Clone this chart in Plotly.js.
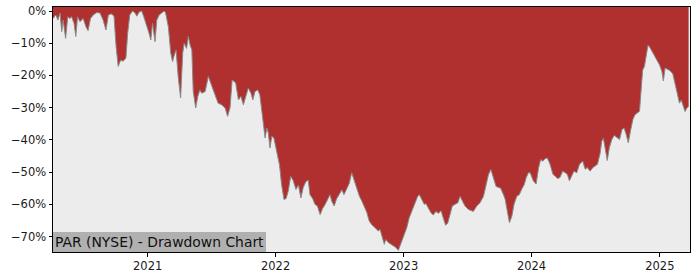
<!DOCTYPE html>
<html>
<head>
<meta charset="utf-8">
<script src="https://cdn.plot.ly/plotly-3.0.1.min.js"></script>
<style>
  html, body { margin: 0; padding: 0; background: #ffffff; }
  #chart { width: 700px; height: 280px; }
</style>
</head>
<body>
<div id="chart"></div>
<script>
// Drawdown series (percent)
const dates = [
'2020-04-06','2020-04-14','2020-04-20','2020-04-26','2020-05-01','2020-05-05','2020-05-12','2020-05-18','2020-05-24','2020-05-29',
'2020-06-05','2020-06-10','2020-06-15','2020-06-22','2020-07-01','2020-07-09','2020-07-15','2020-07-22','2020-07-30','2020-08-08',
'2020-08-18','2020-08-27','2020-09-04','2020-09-11','2020-09-20','2020-09-27','2020-10-03','2020-10-09','2020-10-16','2020-10-23',
'2020-10-31','2020-11-05','2020-11-11','2020-11-19','2020-11-26','2020-12-01','2020-12-08','2020-12-15','2020-12-21','2020-12-29',
'2021-01-05','2021-01-10','2021-01-15','2021-01-22','2021-01-27','2021-02-03','2021-02-10','2021-02-17','2021-02-21','2021-03-01',
'2021-03-08','2021-03-13','2021-03-17','2021-03-23','2021-03-29','2021-04-03','2021-04-05','2021-04-11','2021-04-15','2021-04-22',
'2021-04-27','2021-05-02','2021-05-07','2021-05-11','2021-05-18','2021-05-24','2021-05-30','2021-06-04','2021-06-14','2021-06-23',
'2021-07-03','2021-07-12','2021-07-21','2021-07-31','2021-08-10','2021-08-17','2021-08-24','2021-08-30','2021-09-09','2021-09-17',
'2021-09-24','2021-10-01','2021-10-08','2021-10-15','2021-10-23','2021-10-28','2021-11-03','2021-11-11','2021-11-17','2021-11-22',
'2021-11-27','2021-12-02','2021-12-07','2021-12-11','2021-12-16','2021-12-21','2021-12-27','2022-01-04','2022-01-12','2022-01-18',
'2022-01-25','2022-01-31','2022-02-06','2022-02-13','2022-02-20','2022-02-28','2022-03-07','2022-03-14','2022-03-21','2022-03-28',
'2022-04-04','2022-04-09','2022-04-17','2022-04-23','2022-04-30','2022-05-08','2022-05-15','2022-05-22','2022-05-30','2022-06-05',
'2022-06-10','2022-06-17','2022-06-24','2022-07-02','2022-07-09','2022-07-15','2022-07-23','2022-07-30','2022-08-06','2022-08-13',
'2022-08-20','2022-08-28','2022-09-04','2022-09-10','2022-09-18','2022-09-25','2022-10-02','2022-10-12','2022-10-21','2022-10-26',
'2022-11-01','2022-11-07','2022-11-11','2022-11-19','2022-11-26','2022-12-03','2022-12-10','2022-12-17','2022-12-22','2022-12-27',
'2023-01-03','2023-01-10','2023-01-17','2023-01-24','2023-02-03','2023-02-10','2023-02-15','2023-02-22','2023-03-01','2023-03-06',
'2023-03-13','2023-03-20','2023-03-27','2023-04-03','2023-04-10','2023-04-18','2023-04-24','2023-05-01','2023-05-07','2023-05-14',
'2023-05-20','2023-05-28','2023-06-05','2023-06-11','2023-06-18','2023-06-25','2023-07-05','2023-07-19','2023-07-29','2023-08-07',
'2023-08-17','2023-08-24','2023-08-31','2023-09-07','2023-09-14','2023-09-22','2023-09-28','2023-10-05','2023-10-13','2023-10-18',
'2023-10-24','2023-10-30','2023-11-06','2023-11-12','2023-11-20','2023-11-27','2023-12-04','2023-12-11','2023-12-17','2023-12-23',
'2023-12-28','2024-01-06','2024-01-14','2024-01-21','2024-01-27','2024-02-02','2024-02-09','2024-02-15','2024-02-23','2024-03-02',
'2024-03-08','2024-03-15','2024-03-22','2024-03-30','2024-04-06','2024-04-12','2024-04-18','2024-04-25','2024-05-01','2024-05-09',
'2024-05-17','2024-05-26','2024-06-02','2024-06-08','2024-06-16','2024-06-24','2024-06-30','2024-07-07','2024-07-15','2024-07-19',
'2024-07-24','2024-07-29','2024-08-04','2024-08-10','2024-08-17','2024-08-24','2024-08-31','2024-09-08','2024-09-15','2024-09-21',
'2024-09-27','2024-10-03','2024-10-10','2024-10-16','2024-10-22','2024-10-29','2024-11-04','2024-11-09','2024-11-13','2024-11-18',
'2024-11-23','2024-11-28','2024-12-02','2024-12-09','2024-12-16','2024-12-23','2024-12-31','2025-01-07','2025-01-11','2025-01-16',
'2025-01-23','2025-01-30','2025-02-07','2025-02-14','2025-02-20','2025-02-26','2025-03-03','2025-03-08','2025-03-14','2025-03-19',
'2025-03-24'
];
const drawdown = [
-2.3,-1.2,-2.8,-0.6,-6.4,-2.8,-8.5,-1.8,-2.3,-1.8,
-3.8,-7.9,-1.8,-3.3,-2.3,-4.9,-6.1,-2.3,-1.2,-0.5,
-0.6,-2.8,-5.9,-1.2,-0.9,-1.6,-11,-17.2,-15.2,-15.6,
-14.6,-6.9,-1.2,0,-0.6,-1.6,-0.3,0,-1.8,-4.3,
-6.9,-9.0,-3.8,-9.5,-2.8,-1.2,-0.5,0,-0.5,-4.9,
-13.1,-15.7,-14,-12.1,-20.3,-25.5,-27,-13.1,-10,-11.6,
-7.9,-10.5,-12.1,-25,-30.1,-26.5,-24.5,-25.5,-25,-20.3,
-23.4,-26,-28.6,-29.1,-30.1,-32.7,-30,-21.4,-22.3,-27.6,
-26.5,-29.1,-26.5,-23.9,-25.6,-27.6,-25,-24.5,-26,-31.1,
-35.3,-39.4,-36.3,-37.8,-42.5,-38.9,-39.4,-44,-47.7,-53.9,
-58.5,-58.2,-55.9,-51.3,-52.6,-55.4,-54,-58,-54.7,-53,
-52.5,-57,-58.3,-60,-60.5,-63.2,-61.3,-60.1,-58.3,-57,
-59,-60.5,-58.3,-57,-55.5,-57,-55,-53.5,-50.2,-52.7,
-55.4,-57.5,-59,-60.5,-62.5,-65.2,-66.3,-67.3,-68.3,-67.8,
-70.4,-72.4,-70.9,-71.9,-72.4,-72.9,-73.4,-74.3,-72.9,-71.4,
-69.3,-67.3,-64.2,-62.2,-59,-57.6,-57,-58.6,-60,-59.8,
-61.3,-62.6,-63.3,-62.2,-62.8,-62,-64.2,-66.5,-65.8,-62.6,
-60.5,-60,-59.5,-57.5,-59,-60.5,-61.6,-62.2,-60.5,-59.5,
-57.5,-53.9,-50.8,-49.2,-51.8,-54.5,-54.7,-55,-57,-58.5,
-62.2,-65.7,-63.6,-60,-57.5,-57,-55.3,-53.9,-51.7,-50.2,
-50.2,-52.7,-53.7,-48.7,-46.1,-46.6,-45.8,-45.6,-47.6,-50.7,
-51.2,-52,-51.7,-49.7,-50.2,-50.7,-52.7,-51.2,-49.7,-50.2,
-47.5,-46.6,-49.1,-48.6,-49.7,-48.6,-48.1,-47.6,-44,-40.5,
-39.5,-42.4,-46.4,-42.4,-39.9,-38.6,-39.2,-39.9,-36.8,-36.3,
-38.3,-40.9,-36.8,-33.7,-32.2,-31.6,-31.1,-23.9,-18.3,-17.2,
-13.6,-10.7,-11,-12.4,-13.6,-15.2,-16.7,-18.8,-21.7,-17.7,
-18.2,-18.5,-19.5,-22.6,-26,-28.6,-27.6,-29,-31.2,-30.1,
-29.6
];
const yTickVals = [0, -10, -20, -30, -40, -50, -60, -70];
const yTickText = ['0%', '\u221210%', '\u221220%', '\u221230%', '\u221240%', '\u221250%', '\u221260%', '\u221270%'];
const xTickVals = ['2021-01-01', '2022-01-01', '2023-01-01', '2024-01-01', '2025-01-01'];
const xTickText = ['2021', '2022', '2023', '2024', '2025'];
const chartTitle = 'PAR (NYSE) - Drawdown Chart';

const Y_TOP = 1.25, Y_BOTTOM = -74.8;
const X_RANGE = ['2020-04-06', '2025-03-28'];

const traces = [
  { // upper boundary of the filled region (top of the axes)
    x: dates, y: dates.map(() => Y_TOP), type: 'scatter', mode: 'lines',
    line: { width: 0, color: 'rgba(0,0,0,0)' }, hoverinfo: 'skip', showlegend: false
  },
  {
    x: dates, y: drawdown, type: 'scatter', mode: 'lines',
    fill: 'tonexty', fillcolor: '#b03030',
    line: { color: '#8a8a8a', width: 1 }, showlegend: false
  }
];

const axisCommon = {
  showline: true, mirror: true, linecolor: '#000000', linewidth: 1,
  ticks: 'outside', ticklen: 3.5, tickwidth: 1, tickcolor: '#000000',
  showgrid: false, zeroline: false,
  tickfont: { family: 'DejaVu Sans', size: 11.5, color: '#1a1a1a' }
};

const layout = {
  width: 700, height: 280,
  margin: { l: 53, r: 10, t: 7, b: 28, pad: 0 },
  paper_bgcolor: '#ffffff', plot_bgcolor: '#ececec',
  showlegend: false,
  xaxis: Object.assign({}, axisCommon, {
    type: 'date', range: X_RANGE,
    tickmode: 'array', tickvals: xTickVals, ticktext: xTickText
  }),
  yaxis: Object.assign({}, axisCommon, {
    range: [Y_BOTTOM, Y_TOP],
    tickmode: 'array', tickvals: yTickVals, ticktext: yTickText
  }),
  annotations: [{
    text: chartTitle, xref: 'paper', yref: 'paper', x: 0, y: 0,
    xanchor: 'left', yanchor: 'bottom', showarrow: false,
    bgcolor: '#b0b0b0', borderpad: 2, borderwidth: 0,
    font: { family: 'DejaVu Sans', size: 13.9, color: '#111111' }
  }]
};

Plotly.newPlot('chart', traces, layout, { staticPlot: true, displayModeBar: false });
</script>
</body>
</html>
